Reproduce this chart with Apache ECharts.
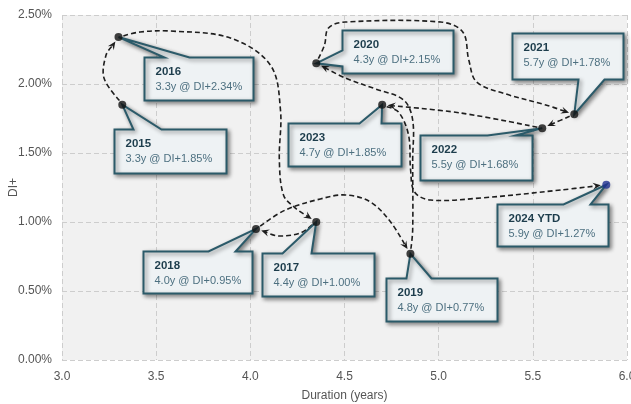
<!DOCTYPE html>
<html><head><meta charset="utf-8">
<script src="https://cdn.jsdelivr.net/npm/echarts@6/dist/echarts.min.js"></script>
<style>html,body{margin:0;padding:0;background:#fff}#c{width:631px;height:404px}</style>
</head><body><div id="c"></div>
<script>
// ---- data ----
const years = ['2015','2016','2017','2018','2019','2020','2021','2022','2023','2024 YTD'];
const duration = [3.32, 3.30, 4.35, 4.03, 4.85, 4.35, 5.72, 5.55, 4.70, 5.89];
const diPlus = [1.85, 2.34, 1.00, 0.95, 0.77, 2.15, 1.78, 1.68, 1.85, 1.27];
const labelDuration = ['3.3','3.3','4.4','4.0','4.8','4.3','5.7','5.5','4.7','5.9'];
const labelDi = ['1.85','2.34','1.00','0.95','0.77','2.15','1.78','1.68','1.85','1.27'];
const xAxisTitle = 'Duration (years)';
const yAxisTitle = 'DI+';

// intermediate waypoints (data units) of the dashed path from year i to year i+1
const arrowVia = [
  [[3.223, 2.043], [3.234, 2.210]],
  [[3.415, 2.377], [3.574, 2.384], [3.894, 2.333], [4.106, 2.138], [4.160, 1.812], [4.154, 1.449], [4.176, 1.196], [4.239, 1.101]],
  [[4.266, 0.920], [4.149, 0.899]],
  [[4.186, 1.087], [4.372, 1.167], [4.505, 1.196], [4.638, 1.145], [4.745, 1.000]],
  [[4.862, 0.942], [4.862, 1.449], [4.862, 1.739], [4.814, 1.884], [4.665, 1.964], [4.505, 2.043]],
  [[4.394, 2.283], [4.415, 2.406], [4.505, 2.449], [5.011, 2.449], [5.128, 2.377], [5.160, 2.174], [5.202, 2.014], [5.356, 1.928], [5.569, 1.848]],
  [],
  [[5.117, 1.790]],
  [[4.787, 1.797], [4.840, 1.630], [4.851, 1.377], [4.872, 1.217], [4.957, 1.159], [5.223, 1.174], [5.649, 1.232]]
];

// ---- callout layout (pixels relative to the point): dx, dy, w, h, side, wedge a, wedge b ----
const calloutLayout = [
  [-8, 24, 112, 44, 'top', 19, 47],
  [25, 20, 109, 43, 'top', 20, 45],
  [-54, 31, 112, 43, 'top', 20, 49],
  [-113, 22, 109, 42, 'top', 65, 92],
  [-24, 24, 111, 43, 'top', 20, 45],
  [26, -33, 111, 43, 'left', 20, 36],
  [-62, -81, 111, 46, 'bottom', 66, 92],
  [-122, 7, 112, 45, 'top', 67, 95],
  [-94, 18, 113, 43, 'top', 71, 93],
  [-109, 19, 111, 42, 'top', 66, 93]
];

const FONT = '"Liberation Sans", Arial, sans-serif';
const chart = echarts.init(document.getElementById('c'), null, {renderer: 'canvas'});

function arrowRender(params, api) {
  const i = params.dataIndex;
  let pts = [api.coord([duration[i], diPlus[i]])];
  arrowVia[i].forEach(p => pts.push(api.coord(p)));
  pts.push(api.coord([duration[i + 1], diPlus[i + 1]]));
  const n = pts.length;
  const s0 = pts[0], s1 = pts[1];
  let dx = s1[0] - s0[0], dy = s1[1] - s0[1], L = Math.hypot(dx, dy);
  pts[0] = [s0[0] + dx / L * 5, s0[1] + dy / L * 5];
  const e = pts[n - 1], ep = pts[n - 2];
  dx = e[0] - ep[0]; dy = e[1] - ep[1]; L = Math.hypot(dx, dy);
  const ux = dx / L, uy = dy / L;
  const tip = [e[0] - ux * 5.5, e[1] - uy * 5.5];
  pts[n - 1] = [tip[0] - ux * 4, tip[1] - uy * 4];
  const back = [tip[0] - ux * 8, tip[1] - uy * 8];
  const notch = [tip[0] - ux * 5, tip[1] - uy * 5];
  const left = [back[0] - uy * 3.6, back[1] + ux * 3.6];
  const right = [back[0] + uy * 3.6, back[1] - ux * 3.6];
  return {
    type: 'group',
    children: [
      {type: 'polyline', shape: {points: pts, smooth: 0.35},
       style: {stroke: '#1e1e1e', lineWidth: 1.6, lineDash: [5, 3], fill: null}},
      {type: 'polygon', shape: {points: [tip, left, notch, right]},
       style: {fill: '#1e1e1e', stroke: null}}
    ]
  };
}

function calloutRender(params, api) {
  const i = params.dataIndex;
  const p = api.coord([duration[i], diPlus[i]]);
  const [dx, dy, w, h, side, a, b] = calloutLayout[i];
  const Lx = Math.round(p[0] + dx) + 0.5, T = Math.round(p[1] + dy) + 0.5;
  const R = Lx + w, B = T + h;
  let poly;
  if (side === 'top') {
    poly = [[Lx, T], [Lx + a, T], p, [Lx + b, T], [R, T], [R, B], [Lx, B]];
  } else if (side === 'bottom') {
    poly = [[Lx, T], [R, T], [R, B], [Lx + b, B], p, [Lx + a, B], [Lx, B]];
  } else {
    poly = [[Lx, T], [R, T], [R, B], [Lx, B], [Lx, T + b], p, [Lx, T + a]];
  }
  return {
    type: 'group',
    children: [
      {type: 'polygon', shape: {points: poly},
       style: {fill: '#eef2f4', stroke: '#2b5a69', lineWidth: 2, lineJoin: 'miter',
               shadowBlur: 4, shadowOffsetX: 2, shadowOffsetY: 2, shadowColor: 'rgba(0,0,0,0.45)'}},
      {type: 'text', style: {text: years[i], x: Lx + 11, y: T + 14, fill: '#1d3d4c',
               font: 'bold 11.5px ' + FONT, align: 'left', verticalAlign: 'middle'}},
      {type: 'text', style: {text: labelDuration[i] + 'y @ DI+' + labelDi[i] + '%', x: Lx + 11, y: T + 29,
               fill: '#4d7080', font: '11px ' + FONT, align: 'left', verticalAlign: 'middle'}}
    ]
  };
}

const pointData = duration.map((d, i) => [d, diPlus[i]]);

chart.setOption({
  animation: false,
  backgroundColor: '#ffffff',
  grid: {left: 62, right: 4, top: 15, bottom: 44, containLabel: false, outerBoundsMode: 'none',
         show: true, backgroundColor: '#f1f1f1', borderWidth: 0},
  xAxis: {
    type: 'value', min: 3, max: 6, interval: 0.5,
    name: xAxisTitle, nameLocation: 'middle', nameGap: 30, nameMoveOverlap: false,
    nameTextStyle: {color: '#555', fontSize: 12, fontFamily: FONT},
    axisLine: {show: false}, axisTick: {show: false},
    axisLabel: {color: '#555', fontSize: 12, fontFamily: FONT, margin: 11, formatter: v => v.toFixed(1)},
    splitLine: {show: true, lineStyle: {color: '#cdcdcd', type: [5, 3], width: 1}}
  },
  yAxis: {
    type: 'value', min: 0, max: 2.5, interval: 0.5,
    name: yAxisTitle, nameLocation: 'middle', nameGap: 42, nameRotate: 90, nameMoveOverlap: false,
    nameTextStyle: {color: '#555', fontSize: 12, fontFamily: FONT},
    axisLine: {show: false}, axisTick: {show: false},
    axisLabel: {color: '#555', fontSize: 12, fontFamily: FONT, margin: 10, formatter: v => v.toFixed(2) + '%'},
    splitLine: {show: true, lineStyle: {color: '#cdcdcd', type: [5, 3], width: 1}}
  },
  series: [
    {type: 'custom', coordinateSystem: 'cartesian2d', z: 2, silent: true,
     data: pointData.slice(0, pointData.length - 1), renderItem: arrowRender},
    {type: 'custom', coordinateSystem: 'cartesian2d', z: 3, silent: true,
     data: pointData, renderItem: calloutRender},
    {type: 'scatter', z: 4, symbol: 'circle', symbolSize: 8, silent: true,
     data: pointData.map((p, i) => ({value: p, itemStyle: {color: i === pointData.length - 1 ? '#1f2f90' : '#111'}}))}
  ]
});
</script>
</body></html>
